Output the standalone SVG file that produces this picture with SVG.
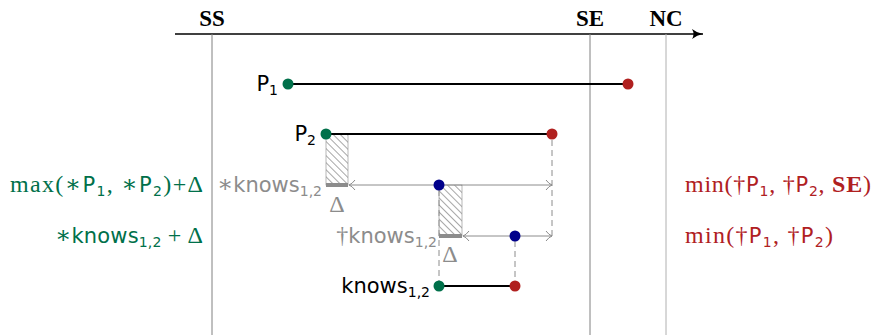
<svg xmlns="http://www.w3.org/2000/svg" width="872" height="335" viewBox="0 0 872 335">
<defs>
<style>
.sans{font-family:"DejaVu Sans","Liberation Sans",sans-serif;font-size:21px;}
.serif{font-family:"Liberation Serif","DejaVu Serif",serif;font-size:24px;}
.green{fill:#00704a;}
.red{fill:#b0201f;}
.gray{fill:#8c8c8c;}
.blk{fill:#000;}
.sub{font-size:14px;}
.vline{stroke:#808080;stroke-width:1;}
.vline2{stroke:#b0b0b0;stroke-width:1;}
.bar{stroke:#000;stroke-width:2;}
.garrow{stroke:#8c8c8c;stroke-width:1;fill:none;marker-start:url(#open);marker-end:url(#open);}
.dash{stroke:#8c8c8c;stroke-width:1;stroke-dasharray:6,4;fill:none;}
.thick{stroke:#8c8c8c;stroke-width:4;}
.hatch{fill:url(#hatch);stroke:#999;stroke-width:0.7;}
.dg{fill:#00704a;}
.dr{fill:#b0201f;}
.db{fill:#00008b;}
.hdr{font-family:"Liberation Serif","DejaVu Serif",serif;font-size:23px;font-weight:bold;}
</style>
<pattern id="hatch" patternUnits="userSpaceOnUse" width="5" height="5" patternTransform="rotate(-45)">
<line x1="0" y1="0" x2="0" y2="5" stroke="#505050" stroke-width="1"/>
</pattern>
<marker id="open" markerWidth="10" markerHeight="12" refX="8" refY="6" orient="auto-start-reverse" markerUnits="userSpaceOnUse">
<path d="M2,1 Q5,5 8,6 Q5,7 2,11" fill="none" stroke="#8c8c8c" stroke-width="1"/>
</marker>
<marker id="axarrow" markerWidth="14" markerHeight="12" refX="12" refY="6" orient="auto" markerUnits="userSpaceOnUse">
<path d="M1,1 Q6,5 12,6 Q6,7 1,11 Q4,6 1,1 Z" fill="#000"/>
</marker>
</defs>

<g id="axis">
<line x1="175" y1="34" x2="703" y2="34" stroke="#000" stroke-width="1.6" marker-end="url(#axarrow)"/>
<text class="hdr" x="212" y="26" text-anchor="middle">SS</text>
<text class="hdr" x="590" y="26" text-anchor="middle">SE</text>
<text class="hdr" x="666" y="26" text-anchor="middle">NC</text>
<line class="vline" x1="212" y1="34" x2="212" y2="335"/>
<line class="vline" x1="590" y1="34" x2="590" y2="335"/>
<line class="vline2" x1="666" y1="34" x2="666" y2="335"/>
</g>

<g id="connectors">
<line class="dash" x1="552" y1="140" x2="552" y2="236"/>
<line class="dash" x1="439" y1="190" x2="439" y2="282"/>
<line class="dash" x1="515" y1="241" x2="515" y2="282"/>
<rect class="hatch" x="326" y="134" width="22" height="51"/>
<rect class="hatch" x="439" y="185" width="23" height="51"/>
<line class="thick" x1="326" y1="185" x2="348" y2="185"/>
<line class="thick" x1="439" y1="236" x2="462" y2="236"/>
<line class="garrow" x1="349" y1="185" x2="552" y2="185"/>
<line class="garrow" x1="463" y1="236" x2="552" y2="236"/>
</g>

<g id="P1">
<line class="bar" x1="288" y1="84" x2="628" y2="84"/>
<circle class="dg" cx="288" cy="84" r="5.5"/>
<circle class="dr" cx="628" cy="84" r="5.5"/>
<text class="sans blk" x="278" y="91" text-anchor="end">P<tspan class="sub" dy="4">1</tspan></text>
</g>

<g id="P2">
<line class="bar" x1="326" y1="134" x2="552" y2="134"/>
<circle class="dg" cx="326" cy="134" r="5.5"/>
<circle class="dr" cx="552" cy="134" r="5.5"/>
<text class="sans blk" x="316" y="141" text-anchor="end">P<tspan class="sub" dy="4">2</tspan></text>
</g>

<g id="knows-star">
<circle class="db" cx="439" cy="185" r="5.5"/>
<text class="sans gray" x="322" y="192" text-anchor="end"><tspan class="serif" font-size="21">∗</tspan>knows<tspan class="sub" dy="4">1,2</tspan></text>
<text class="serif gray" x="337" y="212" text-anchor="middle">Δ</text>
</g>

<g id="knows-dagger">
<circle class="db" cx="515" cy="236" r="5.5"/>
<text class="sans gray" x="437" y="243" text-anchor="end"><tspan class="serif" font-size="21">†</tspan>knows<tspan class="sub" dy="4">1,2</tspan></text>
<text class="serif gray" x="450" y="262" text-anchor="middle">Δ</text>
</g>

<g id="knows">
<line class="bar" x1="439" y1="286" x2="515" y2="286"/>
<circle class="dg" cx="439" cy="286" r="5.5"/>
<circle class="dr" cx="515" cy="286" r="5.5"/>
<text class="sans blk" x="430" y="293" text-anchor="end">knows<tspan class="sub" dy="4">1,2</tspan></text>
</g>

<g id="left-labels">
<text class="serif green" x="10" y="192" textLength="193" lengthAdjust="spacing">max(∗<tspan class="sans">P</tspan><tspan class="sans sub" dy="4">1</tspan><tspan dy="-4">, ∗</tspan><tspan class="sans">P</tspan><tspan class="sans sub" dy="4">2</tspan><tspan dy="-4">)+Δ</tspan></text>
<text class="serif green" x="55" y="243" textLength="148" lengthAdjust="spacing">∗<tspan class="sans">knows</tspan><tspan class="sans sub" dy="4">1,2</tspan><tspan dy="-4"> + Δ</tspan></text>
</g>

<g id="right-labels">
<text class="serif red" x="685" y="192" textLength="186" lengthAdjust="spacing">min(†<tspan class="sans">P</tspan><tspan class="sans sub" dy="4">1</tspan><tspan dy="-4">, †</tspan><tspan class="sans">P</tspan><tspan class="sans sub" dy="4">2</tspan><tspan dy="-4">, </tspan><tspan font-weight="bold">SE</tspan>)</text>
<text class="serif red" x="685" y="243" textLength="148" lengthAdjust="spacing">min(†<tspan class="sans">P</tspan><tspan class="sans sub" dy="4">1</tspan><tspan dy="-4">, †</tspan><tspan class="sans">P</tspan><tspan class="sans sub" dy="4">2</tspan><tspan dy="-4">)</tspan></text>
</g>
</svg>
